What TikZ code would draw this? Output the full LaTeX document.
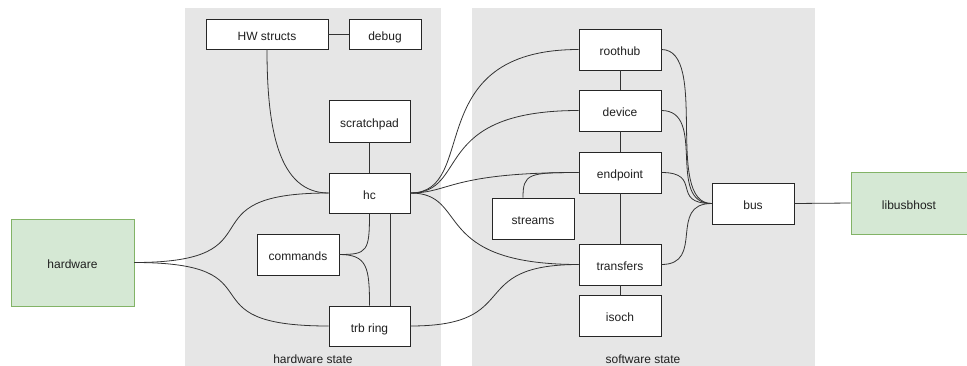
\documentclass[tikz,border=0pt]{standalone}
\usepackage{fontspec}
\setmainfont{Liberation Sans}
\usetikzlibrary{calc}
\definecolor{regiongray}{HTML}{E6E6E6}
\definecolor{greenfill}{HTML}{D5E8D4}
\definecolor{greendraw}{HTML}{82B366}
\definecolor{txt}{HTML}{1F1F1F}
\definecolor{wire}{HTML}{333333}
\tikzset{
  box/.style={draw=black!85, fill=white, line width=0.8pt, inner sep=0pt,
    font=\fontsize{12}{14}\selectfont, text=txt, text height=12.4pt, text depth=0pt},
  greenbox/.style={draw=greendraw, fill=greenfill, line width=0.8pt, inner sep=0pt,
    font=\fontsize{12}{14}\selectfont, text=txt, text height=12.2pt, text depth=0pt},
  region/.style={fill=regiongray, draw=none},
  regionlabel/.style={font=\fontsize{12}{14}\selectfont, text=txt, inner sep=0pt, anchor=base},
  wirestyle/.style={draw=wire, line width=0.8pt},
}
\begin{document}
\begin{tikzpicture}[x=1pt,y=-1pt]
\useasboundingbox (0,0) rectangle (967,365);
% regions
\fill[region] (185,8) rectangle (441,370);
\fill[region] (472,8) rectangle (815,370);
\node[regionlabel] (hwlabel) at (313,363) {hardware state};
\node[regionlabel] (swlabel) at (643,363) {software state};

% nodes
\node[box, minimum width=122pt, minimum height=30pt] (hws) at (267,34) {HW structs};
\node[box, minimum width=72pt, minimum height=30pt] (debug) at (385,34) {debug};
\node[box, minimum width=81pt, minimum height=42pt] (scratch) at (369.5,121) {scratchpad};
\node[box, minimum width=81pt, minimum height=40pt] (hc) at (369.5,193) {hc};
\node[box, minimum width=82pt, minimum height=41pt] (cmds) at (298,254.5) {commands};
\node[box, minimum width=81pt, minimum height=40pt] (trb) at (369.5,326) {trb ring};
\node[greenbox, minimum width=123pt, minimum height=87pt] (hw) at (72.5,262.5) {hardware};

\node[box, minimum width=82pt, minimum height=41pt] (roothub) at (620,49.5) {roothub};
\node[box, minimum width=82pt, minimum height=41pt] (device) at (620,110.5) {device};
\node[box, minimum width=82pt, minimum height=41pt] (endpoint) at (620,172.5) {endpoint};
\node[box, minimum width=82pt, minimum height=41pt] (streams) at (533,218.5) {streams};
\node[box, minimum width=82pt, minimum height=41pt] (transfers) at (620,264.5) {transfers};
\node[box, minimum width=82pt, minimum height=41pt] (isoch) at (620,315.5) {isoch};
\node[box, minimum width=82pt, minimum height=41pt] (bus) at (753,203.5) {bus};
\node[greenbox, minimum width=116pt, minimum height=62pt] (libusb) at (909,203) {libusbhost};

% connectors
\draw[wirestyle] (hws.east) -- (debug.west);
\draw[wirestyle] (hws.south) .. controls +(0,80) and +(-50,0) .. (hc.west);
\draw[wirestyle] (scratch.south) -- (hc.north);
\draw[wirestyle] (hw.east) .. controls +(150,0) and +(-150,0) .. (hc.west);
\draw[wirestyle] (hw.east) .. controls +(150,0) and +(-150,0) .. (trb.west);
\draw[wirestyle] (hc.south) .. controls +(0,38) and +(28,0) .. (cmds.east);
\draw[wirestyle] (cmds.east) .. controls +(28,0) and +(0,-38) .. (trb.north);
\draw[wirestyle] ([xshift=20.5pt]hc.south) -- ([xshift=20.5pt]trb.north);

\draw[wirestyle] (hc.east) .. controls +(70,0) and +(-160,0) .. (roothub.west);
\draw[wirestyle] (hc.east) .. controls +(60,0) and +(-150,0) .. (device.west);
\draw[wirestyle] (hc.east) .. controls +(40,0) and +(-130,0) .. (endpoint.west);
\draw[wirestyle] (hc.east) .. controls +(60,0) and +(-150,0) .. (transfers.west);
\draw[wirestyle] (trb.east) .. controls +(115,0) and +(-115,0) .. (transfers.west);
\draw[wirestyle] (endpoint.west) .. controls +(-50,0) and +(0,-24) .. ([xshift=-10pt]streams.north);

\draw[wirestyle] (roothub.south) -- (device.north);
\draw[wirestyle] (device.south) -- (endpoint.north);
\draw[wirestyle] (endpoint.south) -- (transfers.north);
\draw[wirestyle] (transfers.south) -- (isoch.north);

\draw[wirestyle] (roothub.east) .. controls +(48,0) and +(-48,0) .. (bus.west);
\draw[wirestyle] (device.east) .. controls +(46,0) and +(-46,0) .. (bus.west);
\draw[wirestyle] (endpoint.east) .. controls +(42,0) and +(-42,0) .. (bus.west);
\draw[wirestyle] (transfers.east) .. controls +(44,0) and +(-44,0) .. (bus.west);
\draw[wirestyle] (bus.east) -- (libusb.west);
\end{tikzpicture}
\end{document}
